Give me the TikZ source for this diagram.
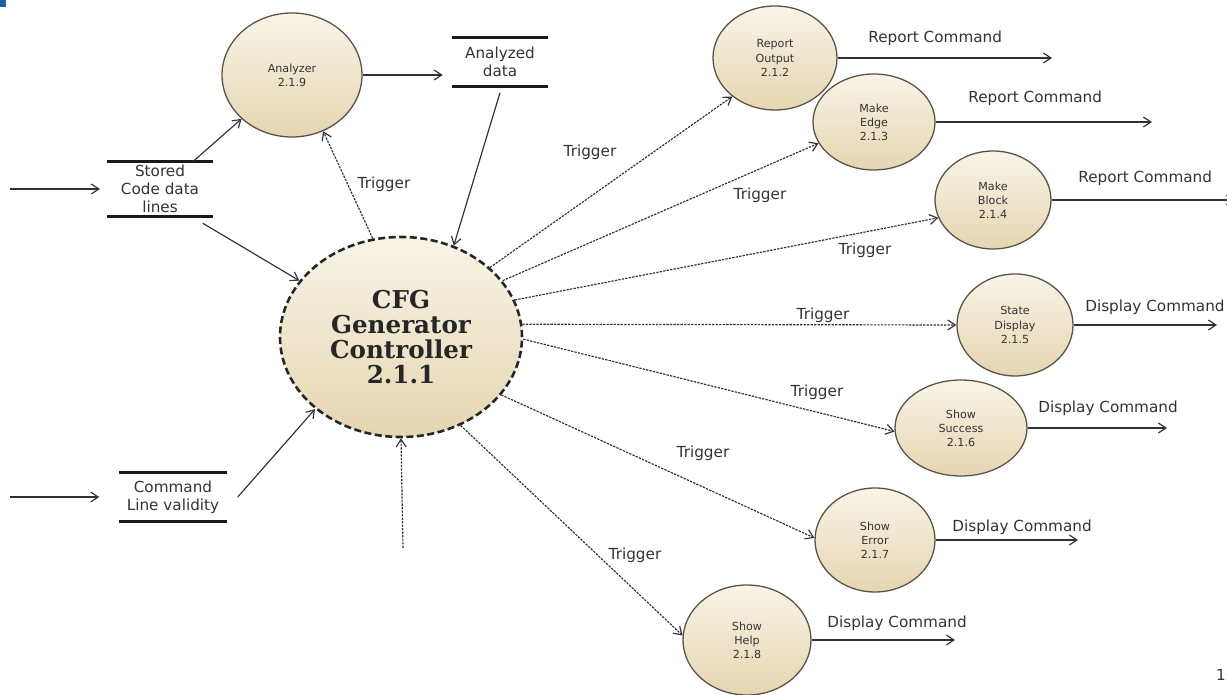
\documentclass[tikz,border=0pt]{standalone}
\usepackage{fontspec}
\setmainfont{DejaVu Sans}
\newfontfamily\cfgfont{DejaVu Serif}
\usetikzlibrary{shapes.geometric,arrows.meta}
\definecolor{creamtop}{RGB}{249,244,231}
\definecolor{creambot}{RGB}{229,214,178}
\definecolor{inkgray}{RGB}{50,50,50}
\definecolor{rimgray}{RGB}{90,82,70}
\definecolor{cornerblue}{RGB}{30,95,170}
\tikzset{
 proc/.style={ellipse,draw=rimgray,line width=1.1pt,top color=creamtop,bottom color=creambot,
  inner sep=0pt,align=center,font=\fontsize{9.5}{12}\selectfont,text=black!80},
 ctrl/.style={proc,draw=black!85,line width=2.2pt,dash pattern=on 6pt off 3pt,
  font=\cfgfont\bfseries\fontsize{21}{21.3}\selectfont,text=black!85},
 store/.style={inner sep=0pt,align=center,font=\fontsize{13}{15.5}\selectfont,text=black!80},
 lbl/.style={font=\fontsize{13}{15}\selectfont,text=black!80,inner sep=1pt},
 flow/.style={draw=inkgray,line width=1pt,-{Straight Barb[length=6.5pt,width=8.5pt]}},
 trig/.style={flow,dash pattern=on 2pt off 1pt},
 bar/.style={line width=2.2pt,black!90}
}
\begin{document}
\begin{tikzpicture}[x=0.03cm,y=0.03cm]
\useasboundingbox (0,0) rectangle (1227,694);
\fill[cornerblue] (0,687) rectangle (6,694);
% processes
\node[ctrl,minimum width=7.26cm,minimum height=6cm] (cfg) at (401,357) {CFG\\Generator\\Controller\\2.1.1};
\node[proc,minimum width=4.2cm,minimum height=3.72cm] (an) at (292,619) {Analyzer\\2.1.9};
\node[proc,minimum width=3.72cm,minimum height=3.12cm] (rep) at (775,636) {Report\\Output\\2.1.2};
\node[proc,minimum width=3.66cm,minimum height=2.88cm] (medge) at (874,572) {Make\\Edge\\2.1.3};
\node[proc,minimum width=3.48cm,minimum height=2.94cm] (mblock) at (993,494) {Make\\Block\\2.1.4};
\node[proc,minimum width=3.48cm,minimum height=3.06cm] (sdisp) at (1015,369) {State\\Display\\2.1.5};
\node[proc,minimum width=3.96cm,minimum height=2.88cm] (ssucc) at (961,266) {Show\\Success\\2.1.6};
\node[proc,minimum width=3.6cm,minimum height=3.12cm] (serr) at (875,154) {Show\\Error\\2.1.7};
\node[proc,minimum width=3.84cm,minimum height=3.3cm] (shelp) at (747,54) {Show\\Help\\2.1.8};
% data stores
\node[store,minimum width=3.15cm,minimum height=1.62cm] (sc) at (160,505) {Stored\\Code data\\lines};
\node[store,minimum width=2.88cm,minimum height=1.47cm] (dat) at (500,632) {Analyzed\\data};
\node[store,minimum width=3.21cm,minimum height=1.44cm] (cmd) at (173,197) {Command\\Line validity};
\foreach \s in {sc,dat,cmd}{
 \draw[bar] (\s.north west) -- (\s.north east);
 \draw[bar] (\s.south west) -- (\s.south east);
}
\coordinate (in1) at (10,505);
\coordinate (in2) at (10,197);
\coordinate (up) at (403,146);
% flows
\draw[flow] (in1) -- ([xshift=-0.22cm]sc.west);
\draw[flow] (in2) -- ([xshift=-0.6cm]cmd.west);
\draw[flow] ([xshift=-0.6cm]sc.north east) -- (an.221);
\draw[flow] ([shift={(-0.3cm,-0.21cm)}]sc.south east) -- (cfg.151);
\draw[flow] ([xshift=0.33cm]cmd.east) -- (cfg.220);
\draw[flow,shorten >=0.27cm] (an.east) -- (an.east -| dat.west);
\draw[flow] ([yshift=-0.18cm]dat.south) -- (cfg.60);
\draw[trig] (cfg.106) -- (an.299);
\draw[trig] (up) -- (cfg.south);
\foreach \n/\a/\b in {rep/38/222,medge/29/201,mblock/18/198,sdisp/6/180,ssucc/359/183,serr/330/178,shelp/304/176}
 \draw[trig] (cfg.\a) -- (\n.\b);
\foreach \i/\x/\y in {0/384/510,1/590/542,2/760/499,3/865/444,4/823/379,5/817/302,6/703/241,7/635/139}
 \node[lbl] (t\i) at (\x,\y) {Trigger};
% outputs
\foreach \n/\e/\lx/\ly/\txt in {rep/1052/867/656/Report Command,medge/1152/967/596/Report Command,
  mblock/1235/1077/516/Report Command,ssucc/1167/1037/286/Display Command,
  serr/1078/951/167/Display Command,shelp/955/826/71/Display Command}{
 \coordinate (\n-out) at (\n.east -| \e,0);
 \draw[flow] (\n.east) -- (\n-out);
 \node[lbl,anchor=west] (\n-lbl) at (\lx,\ly) {\txt};
}
\coordinate (sdisp-out) at (sdisp.east -| 1217,0);
\draw[flow] (sdisp.east) -- (sdisp-out);
\node[lbl,anchor=east] (sdisp-lbl) at (1226,387) {Display Command};
\node[lbl] (pg) at (1221,19) {1};
\end{tikzpicture}
\end{document}
